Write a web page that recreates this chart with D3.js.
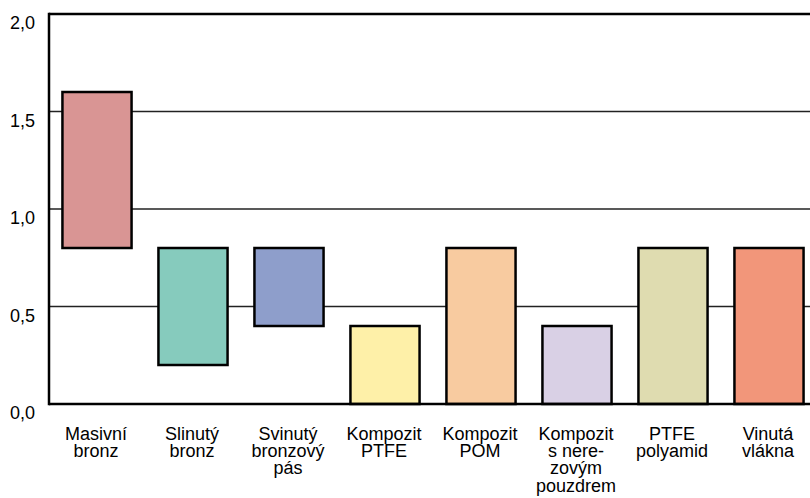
<!DOCTYPE html>
<html><head><meta charset="utf-8">
<script src="https://cdn.jsdelivr.net/npm/d3@7"></script>
<style>body{margin:0;background:#fff}svg{display:block}</style>
</head><body><svg id="c" width="810" height="498"></svg>
<script>
const categories = [
  ["Masivní","bronz"],
  ["Slinutý","bronz"],
  ["Svinutý","bronzový","pás"],
  ["Kompozit","PTFE"],
  ["Kompozit","POM"],
  ["Kompozit","s nere-","zovým","pouzdrem"],
  ["PTFE","polyamid"],
  ["Vinutá","vlákna"]
];
const lowValues  = [0.8, 0.2, 0.4, 0.0, 0.0, 0.0, 0.0, 0.0];
const highValues = [1.6, 0.8, 0.8, 0.4, 0.8, 0.4, 0.8, 0.8];
const colors = ["#D99594","#86CBBD","#8E9ECB","#FEF0A8","#F8CBA0","#D9D0E5","#DFDCB0","#F2967A"];
const yTicks = [0, 0.5, 1.0, 1.5, 2.0];

const svg = d3.select("#c");
const font = "'Liberation Sans', Arial, Helvetica, sans-serif";
const x = d3.scaleBand().domain(d3.range(categories.length)).range([49, 817]).paddingInner(0.28).paddingOuter(0.14);
const y = d3.scaleLinear().domain([0, 2]).range([404, 14]);

// gridlines
svg.append("g").selectAll("line").data(yTicks.filter(t => t > 0 && t < 2)).join("line")
  .attr("x1", 49).attr("x2", 810).attr("y1", d => y(d)).attr("y2", d => y(d))
  .attr("stroke", "#222").attr("stroke-width", 1.3);

// bars
svg.append("g").selectAll("rect").data(categories.map((c, i) => i)).join("rect")
  .attr("x", i => x(i)).attr("width", x.bandwidth())
  .attr("y", i => y(highValues[i])).attr("height", i => y(lowValues[i]) - y(highValues[i]))
  .attr("fill", i => colors[i]).attr("stroke", "#000").attr("stroke-width", 2.5);

// frame lines
svg.append("line").attr("x1", 49).attr("x2", 810).attr("y1", y(2)).attr("y2", y(2)).attr("stroke", "#000").attr("stroke-width", 2.5);
svg.append("line").attr("x1", 49).attr("x2", 810).attr("y1", y(0)).attr("y2", y(0)).attr("stroke", "#000").attr("stroke-width", 2.5);
svg.append("line").attr("x1", 49).attr("x2", 49).attr("y1", y(2) - 1.25).attr("y2", y(0) + 1.25).attr("stroke", "#000").attr("stroke-width", 2.5);

// y tick labels
const fmt = d => d3.format(".1f")(d).replace(".", ",");
svg.append("g").selectAll("text").data(yTicks).join("text")
  .attr("x", 35).attr("y", d => y(d) + 15).attr("text-anchor", "end")
  .attr("font-family", font).attr("font-size", 18).attr("fill", "#000")
  .text(fmt);

// category labels
const lab = svg.append("g").selectAll("text").data(categories).join("text")
  .attr("x", (d, i) => x(i) + x.bandwidth() / 2 - 1).attr("y", 439.5)
  .attr("text-anchor", "middle").attr("font-family", font).attr("font-size", 18).attr("fill", "#000");
lab.selectAll("tspan").data(d => d).join("tspan")
  .attr("x", function() { return d3.select(this.parentNode).attr("x"); })
  .attr("dy", (d, j) => j === 0 ? 0 : 17.4).text(d => d);
</script></body></html>
